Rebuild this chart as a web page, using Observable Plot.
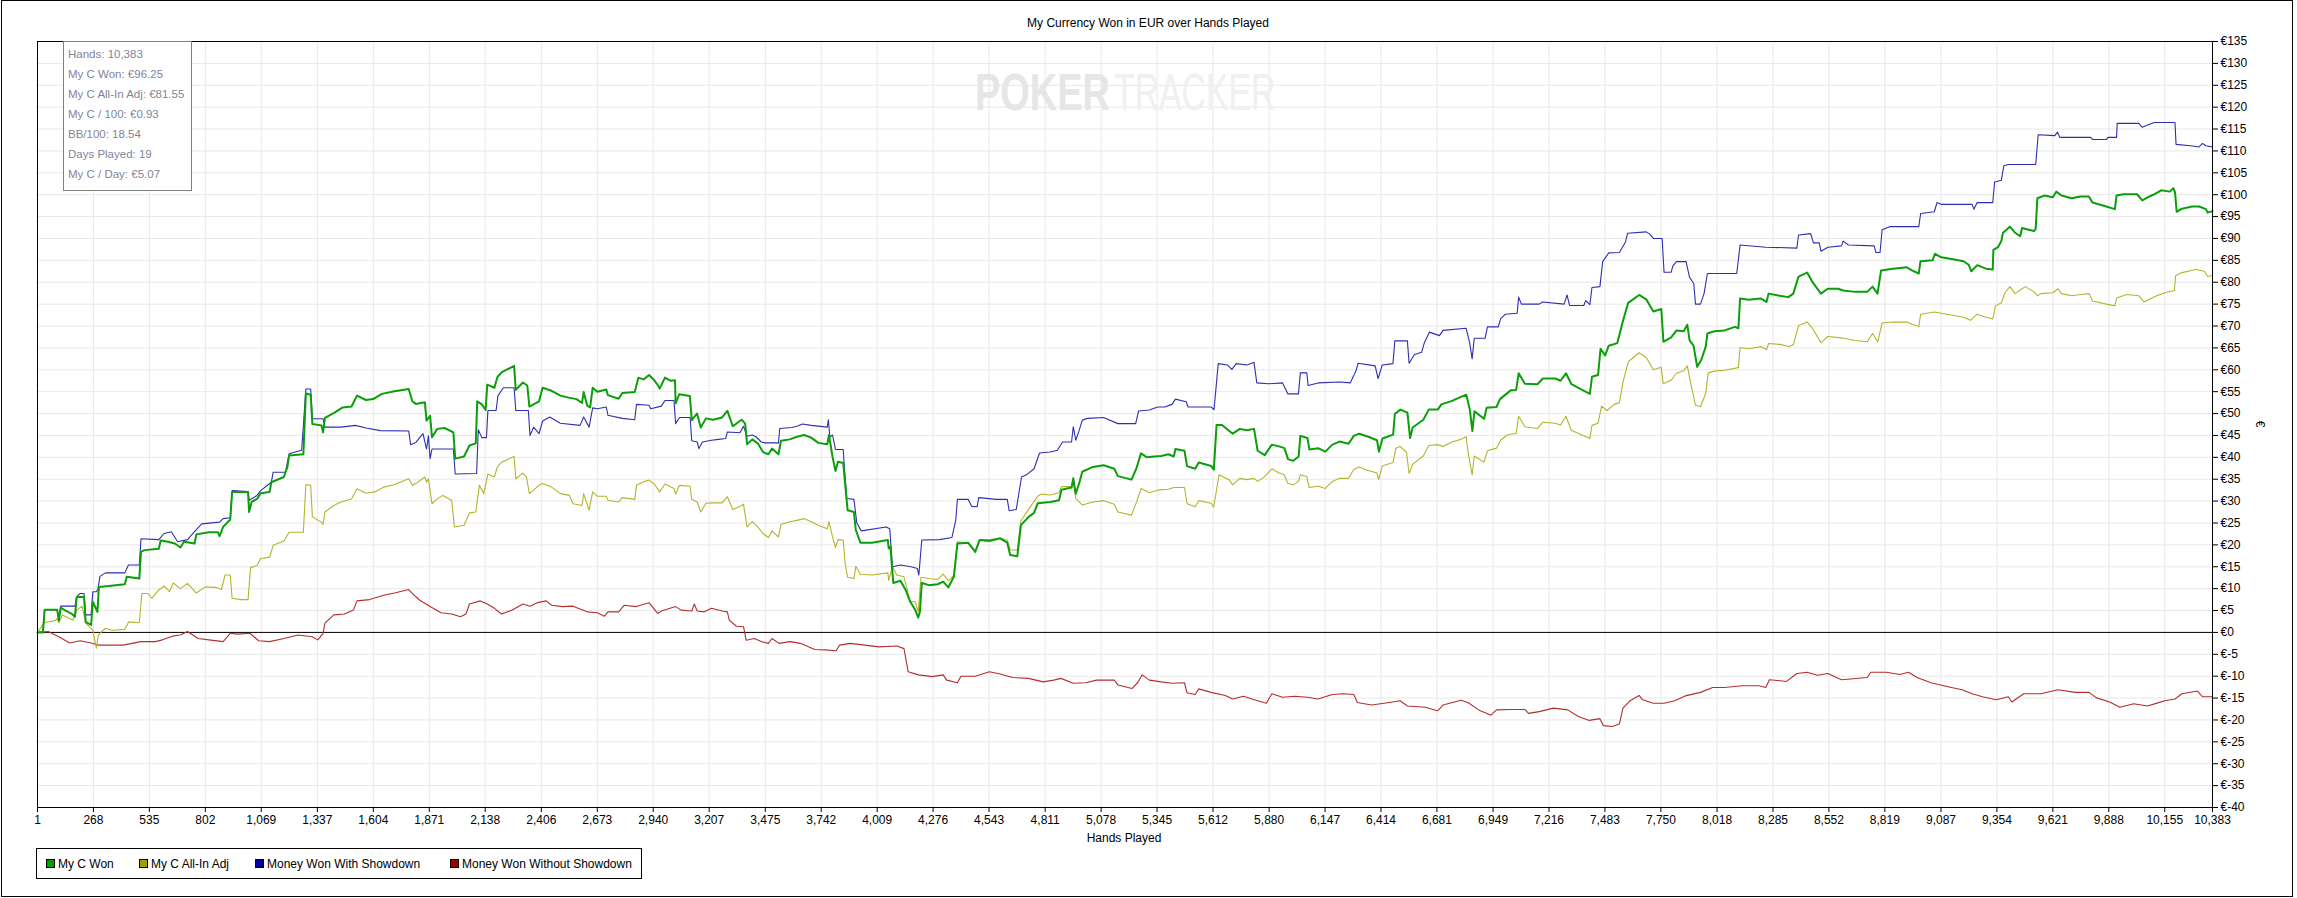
<!DOCTYPE html>
<html><head><meta charset="utf-8">
<script src="https://cdn.jsdelivr.net/npm/d3@7"></script>
<script src="https://cdn.jsdelivr.net/npm/@observablehq/plot@0.6"></script>
<style>
html,body{margin:0;padding:0;background:#fff;overflow:hidden;}
#chart{position:relative;width:2297px;height:898px;}
#chart svg{display:block;}
</style></head><body><div id="chart"></div>
<script>
// ---------------- data ----------------
const seriesNames = ["My C Won", "My C All-In Adj", "Money Won With Showdown", "Money Won Without Showdown"];
const lineColors = ["#0a9f0a", "#b4b42e", "#2e2eb4", "#b42e2e"];
const legendColors = ["#00a000", "#a0a000", "#0000a0", "#a00000"];

const xTicks = [1,268,535,802,1069,1337,1604,1871,2138,2406,2673,2940,3207,3475,3742,4009,4276,4543,4811,5078,5345,5612,5880,6147,6414,6681,6949,7216,7483,7750,8018,8285,8552,8819,9087,9354,9621,9888,10155,10383];
const yTicks = d3.range(-40, 136, 5);

const statsLines = ["Hands: 10,383", "My C Won: €96.25", "My C All-In Adj: €81.55", "My C / 100: €0.93", "BB/100: 18.54", "Days Played: 19", "My C / Day: €5.07"];
const watermarkParts = ["POKER", "TRACKER"];

// My C Won
const wonHands = [1,27,35,95,103,112,137,163,180,188,223,231,257,265,287,294,342,418,427,487,495,512,580,589,623,657,683,700,751,759,819,862,870,887,921,930,1006,1011,1023,1049,1066,1109,1117,1177,1194,1202,1270,1282,1305,1313,1356,1364,1373,1415,1458,1500,1526,1569,1603,1645,1705,1773,1790,1807,1850,1858,1875,1884,1909,1944,1986,1995,2037,2063,2093,2100,2122,2140,2148,2182,2196,2216,2276,2284,2318,2339,2349,2395,2412,2455,2497,2531,2574,2600,2608,2625,2639,2651,2673,
2716,2724,2775,2792,2852,2869,2894,2920,2945,2962,2971,2996,3022,3044,3047,3064,3115,3124,3149,3167,3192,3226,3269,3294,3320,3362,3379,3388,3413,3439,3464,3490,3507,3538,3550,3592,3626,3660,3694,3728,3771,3779,3796,3810,3822,3847,3856,3868,3898,3907,3929,3984,4060,4064,4072,4086,4120,4145,4167,4191,4205,4213,4222,4256,4298,4324,4349,4375,4392,4443,4477,4498,4545,4596,4630,4644,4678,4695,4732,4758,4775,4835,4877,4889,4937,4945,4957,4974,4988,5039,5090,5141,5158,5223,5246,5268,5297,
5331,5365,5399,5425,5433,5476,5488,5527,5544,5604,5616,5629,5655,5706,5740,5774,5808,5825,5859,5893,5927,5953,5970,5995,6021,6029,6063,6072,6114,6148,6182,6216,6259,6284,6310,6353,6395,6404,6421,6472,6480,6506,6540,6553,6565,6616,6642,6685,6702,6753,6795,6821,6838,6850,6860,6906,6918,6965,6982,7033,7059,7071,7101,7161,7186,7246,7271,7297,7323,7374,7411,7421,7450,7462,7484,7501,7542,7568,7594,7646,7680,7714,7752,7762,7799,7825,7859,7876,
7887,7906,7923,7943,7964,7972,8005,8054,8103,8120,8128,8169,8226,8254,8264,8317,8358,8382,8407,8448,8473,8514,8546,8596,8620,8678,8735,8760,8784,8801,8858,8924,8948,8981,8989,9047,9058,9088,9137,9195,9219,9232,9260,9301,9334,9337,9359,9375,9383,9416,9441,9465,9474,9506,9531,9539,9547,9580,9621,9637,9662,9711,9752,9793,9810,9876,9917,9925,9958,10023,10048,10073,10105,10138,10179,10196,10204,10212,10237,10286,10319,10352,10360,10383];
const wonValues = [0,0,5.2,5.2,2.7,5.7,4.9,4.3,3.6,8.1,8.1,2.4,1.7,7.0,4.7,10.4,10.6,11.0,12.7,12.3,18.4,18.8,19.1,21.0,20.7,20.3,19.4,20.7,20.3,22.4,22.9,22.9,22.0,24.1,25.8,32.1,32.1,27.5,29.8,30.5,31.8,32.1,34.3,35.5,37.8,40.4,40.7,54.6,54.3,47.6,47.3,45.7,49.0,50.1,51.4,51.6,54.1,53.1,53.3,54.5,55.1,55.6,52.8,52.2,52.6,48.4,49.5,44.6,46.5,46.7,45.7,39.7,40.2,42.7,43.2,52.8,52.1,50.8,56.6,55.9,58.3,59.4,60.9,55.4,57.1,56.4,51.6,52.8,55.9,55.2,54.1,53.7,53.3,52.4,54.9,51.8,51.4,55.9,55.0,
55.5,54.2,53.4,54.7,54.9,58.2,57.8,58.8,57.6,56.5,55.7,58.2,57.5,57.6,52.3,54.4,54.0,48.5,50.0,46.8,48.9,48.6,49.1,50.6,47.1,48.6,47.7,43.0,44.1,43.2,41.2,40.7,42.0,40.7,43.8,44.1,44.7,45.1,44.5,43.3,43.0,45.1,40.1,36.9,39.0,38.7,34.0,27.9,27.5,23.4,20.5,20.5,21.1,19.2,19.6,11.3,11.8,9.7,7.0,5.1,3.4,4.7,11.3,10.8,11.0,11.6,10.3,12.7,20.3,20.5,18.4,21.1,20.9,21.5,20.5,17.7,17.4,24.5,26.4,27.3,29.5,29.8,30.2,32.6,33.1,35.2,31.7,34.2,36.7,37.8,38.2,37.4,35.7,34.9,37.4,40.9,40.0,
40.2,40.3,40.7,40.2,41.9,41.5,38.0,37.4,38.8,38.0,37.2,47.4,47.4,45.4,46.5,46.2,46.5,41.5,40.5,42.9,42.5,42.1,39.6,39.2,40.2,44.9,44.4,41.8,42.1,41.3,42.9,43.6,43.1,44.9,45.4,44.7,43.9,41.3,44.3,45.2,49.9,50.9,50.2,44.4,46.8,48.6,50.9,50.9,52.1,52.9,53.8,54.3,50.9,46.0,50.5,48.8,51.3,51.5,53.3,55.3,55.4,59.2,56.8,56.7,58.0,58.0,57.5,59.2,56.7,55.4,54.5,58.4,58.8,64.8,63.3,65.5,66.1,71.0,75.3,77.1,76.1,73.3,73.9,66.4,67.4,69.0,68.8,70.3,
66.7,65.5,60.7,62.3,65.3,68.3,68.8,69.0,69.8,69.5,76.3,76.0,76.3,75.5,77.4,76.9,76.6,77.4,81.3,82.2,80.1,77.4,78.5,78.5,78.1,77.8,77.8,79.0,77.4,82.7,83.1,83.4,82.7,82.0,84.8,85.0,86.5,85.7,85.3,84.8,84.0,82.5,83.9,83.1,82.9,87.4,88.0,89.4,91.3,92.7,91.3,90.5,92.4,92.0,91.7,92.2,99.2,99.8,99.4,100.7,99.8,99.2,99.6,99.6,98.2,97.3,96.7,99.8,100.1,100.1,98.7,99.4,100.1,101.0,100.7,101.5,100.6,96.1,96.8,97.3,97.3,96.7,95.9,96.25];

// My C All-In Adj
const adjHands = [1,32,86,95,103,120,171,188,214,231,257,265,282,291,308,325,359,418,436,487,499,529,546,580,606,631,649,683,717,759,802,853,879,896,921,930,972,1006,1018,1049,1066,1109,1126,1177,1202,1270,1282,1305,1313,1356,1364,1373,1415,1449,1500,1526,1569,1611,1654,1705,1773,1790,1807,1850,1858,1867,1884,1909,1935,1978,1991,2037,2063,2093,2110,2131,2151,2182,2196,2216,2276,2284,2318,2335,2349,2395,2412,2455,2497,2540,2557,2600,2608,2634,2651,2673,
2716,2724,2775,2792,2852,2860,2894,2920,2945,2971,2996,3039,3047,3065,3116,3124,3150,3167,3192,3226,3269,3294,3320,3354,3371,3388,3413,3439,3464,3490,3507,3538,3550,3592,3626,3660,3694,3728,3771,3779,3796,3810,3822,3847,3856,3868,3898,3907,3929,3984,4060,4064,4082,4103,4137,4167,4191,4205,4218,4256,4298,4324,4349,4375,4392,4443,4477,4498,4545,4596,4630,4644,4678,4695,4732,4775,4792,4835,4877,4889,4937,4945,4957,4988,5039,5090,5141,5158,5223,5252,5269,5308,
5348,5399,5425,5476,5488,5527,5544,5603,5615,5641,5689,5706,5740,5774,5808,5825,5859,5893,5927,5952,5969,5995,6020,6029,6060,6071,6114,6148,6182,6216,6259,6284,6310,6352,6395,6403,6420,6471,6485,6505,6536,6548,6565,6616,6642,6684,6710,6752,6795,6820,6832,6849,6859,6905,6922,6965,6985,7016,7042,7059,7071,7101,7161,7186,7246,7271,7297,7322,7373,7411,7421,7450,7467,7493,7527,7552,7569,7595,7646,7680,7714,7751,7761,7799,7824,7859,7876,7893,
7915,7939,7964,7976,8005,8054,8120,8128,8169,8227,8255,8264,8317,8363,8383,8407,8448,8473,8514,8547,8612,8678,8735,8760,8785,8806,8858,8924,8949,8981,8990,9055,9088,9137,9195,9228,9260,9301,9334,9347,9375,9392,9416,9441,9474,9490,9531,9548,9564,9621,9646,9662,9712,9753,9794,9810,9876,9917,9925,9974,10032,10056,10105,10155,10201,10207,10237,10303,10344,10360,10383];
const adjValues = [0,2.2,2.7,3.2,2.2,4.0,2.8,5.1,6.0,2.1,0.9,0.5,-3.6,-0.6,0.2,0.9,0.5,0.7,2.4,2.2,8.9,8.9,7.8,9.7,10.6,9.3,11.3,10.0,11.2,9.0,10.4,10.3,9.8,13.1,13.1,7.8,7.5,7.5,14.8,15.3,16.9,17.2,19.9,20.9,22.9,22.9,33.8,33.6,26.4,25.2,24.7,27.5,29.0,29.8,30.5,32.8,31.8,32.1,33.2,33.8,35.1,33.6,34.0,35.5,34.3,35.1,29.4,30.5,31.3,30.2,24.1,24.5,27.3,27.5,33.6,31.7,36.2,35.5,37.8,38.9,40.2,35.1,36.4,35.5,31.7,33.6,34.0,33.2,31.7,31.3,29.4,29.0,31.7,27.9,32.1,31.1,
31.1,30.2,29.8,30.8,30.4,33.6,34.4,34.8,33.9,32.1,33.9,32.9,31.6,33.6,33.4,30.4,29.8,27.5,29.5,29.6,29.6,31.0,28.1,28.8,29.3,24.1,25.3,24.1,22.6,21.7,23.2,21.8,24.7,25.3,25.6,26.0,25.3,24.5,23.7,25.3,21.8,19.4,21.2,21.1,15.8,12.6,12.3,15.1,13.3,13.1,13.6,11.9,15.0,13.1,12.7,7.0,7.0,4.7,12.6,12.3,12.1,13.3,11.8,13.1,20.7,20.5,18.6,21.2,21.2,21.5,21.1,18.9,18.8,25.5,28.1,31.1,31.6,31.4,31.9,33.3,33.3,34.4,30.6,29.1,29.8,30.1,29.3,27.5,26.8,30.4,32.9,31.9,
32.5,32.7,33.1,33.1,29.4,28.7,30.1,29.5,28.6,36.0,34.9,33.7,35.2,34.9,35.2,34.5,35.6,37.4,36.4,36.0,34.1,33.7,34.5,36.0,35.6,33.1,33.4,32.9,34.5,35.2,35.2,37.2,37.8,37.0,36.4,34.9,38.0,38.8,42.1,42.5,41.1,36.3,38.4,40.3,42.7,42.9,42.5,43.5,44.1,44.7,40.5,36.0,40.3,38.9,41.5,42.1,43.9,45.1,45.4,45.4,49.4,47.0,46.6,48.0,47.8,47.4,49.4,46.2,45.1,44.3,47.3,47.8,51.7,50.7,52.1,52.5,57.2,61.9,63.9,62.8,60.0,60.6,56.8,57.6,59.2,59.8,60.9,56.8,
51.9,51.6,54.6,59.3,59.7,59.9,60.5,65.1,64.8,65.3,64.6,66.0,65.8,65.3,65.8,70.1,70.9,69.5,66.2,67.6,67.3,66.7,66.4,68.3,66.4,70.7,70.9,70.9,70.4,69.9,72.7,73.2,72.9,72.5,72.0,71.3,72.7,72.0,71.6,74.6,75.3,77.6,79.0,77.4,78.5,79.0,77.8,76.9,77.4,77.6,78.5,77.4,76.9,77.2,77.4,75.7,75.0,74.6,76.4,77.2,76.9,75.5,76.7,77.6,78.1,81.5,82.2,82.9,82.5,81.3,81.55];

// Money Won With Showdown
const sdHands = [1,27,35,95,103,112,180,188,205,223,231,257,265,282,290,299,325,418,435,487,495,580,605,640,670,717,759,785,870,887,921,930,1006,1011,1049,1066,1117,1126,1185,1202,1262,1282,1305,1313,1364,1373,1450,1518,1569,1637,1773,1782,1807,1841,1858,1867,1875,1884,1986,1995,2097,2105,2122,2144,2151,2190,2199,2225,2276,2284,2344,2352,2369,2395,2412,2446,2497,2591,2608,2634,2651,2673,
2716,2724,2792,2852,2860,2920,2928,2979,2996,3039,3047,3065,3116,3124,3150,3158,3175,3218,3252,3286,3294,3354,3371,3388,3413,3430,3456,3473,3538,3544,3601,3626,3652,3694,3771,3776,3783,3796,3810,3847,3851,3864,3898,3912,3933,4052,4069,4082,4120,4171,4201,4208,4222,4307,4366,4384,4392,4443,4460,4486,4494,4579,4630,4639,4673,4698,4724,4758,4784,4835,4869,4894,4937,4945,4957,4971,4988,5013,5090,5158,5243,5257,5308,
5348,5382,5416,5433,5484,5493,5603,5617,5637,5680,5702,5723,5774,5808,5821,5876,5944,5969,6020,6029,6060,6066,6114,6216,6267,6293,6305,6386,6400,6420,6471,6480,6540,6548,6574,6608,6621,6645,6693,6710,6820,6837,6849,6859,6911,6922,6974,6985,7008,7064,7071,7084,7169,7186,7288,7302,7314,7382,7391,7411,7421,7459,7472,7501,7552,7581,7591,7680,7697,7714,7756,7765,7799,7807,7824,7870,
7887,7907,7915,7939,7956,7972,8112,8128,8251,8399,8407,8465,8478,8506,8514,8547,8612,8620,8645,8768,8776,8796,8806,8842,8981,8990,9055,9068,9088,9236,9244,9260,9334,9343,9375,9387,9408,9539,9551,9630,9643,9654,9802,9810,9876,9884,9925,9928,10031,10048,10073,10105,10204,10209,10278,10319,10335,10352,10383];
const sdValues = [0,0,5.2,5.2,3.0,6.0,6.0,8.1,8.9,8.9,4.0,4.0,9.3,9.3,10.0,12.8,13.6,13.6,15.4,15.4,21.4,21.2,22.6,23.0,20.7,21.2,23.5,24.8,25.2,26.0,26.2,32.4,32.2,30.2,31.3,32.4,34.3,36.6,36.6,40.8,41.6,55.6,55.6,48.8,48.8,46.9,46.9,47.3,46.7,46.1,46.0,42.9,43.4,45.4,41.9,44.9,39.7,41.9,41.9,36.2,36.3,46.3,44.5,44.5,50.7,50.7,54.1,55.9,55.9,50.7,50.7,45.0,46.9,45.4,48.3,49.2,47.8,47.3,49.2,46.9,51.3,51.1,
51.5,49.6,48.9,48.6,52.1,51.9,51.1,51.7,53.0,53.0,47.7,49.1,49.1,43.8,43.5,42.0,43.5,43.9,44.1,44.3,45.8,45.6,47.1,44.8,45.1,44.7,43.5,43.3,43.3,46.6,46.8,47.1,47.6,47.3,46.9,48.6,44.7,45.1,41.8,41.8,38.6,30.6,30.4,25.0,23.2,24.1,23.7,15.0,15.4,15.0,14.6,13.1,21.1,21.2,21.7,25.6,30.4,30.4,28.8,28.7,30.8,30.4,30.4,27.8,28.1,35.5,36.1,37.4,41.0,41.2,41.6,43.5,43.5,47.0,43.9,45.8,48.5,48.9,49.1,47.7,47.7,50.6,50.8,
51.5,51.5,52.1,53.3,52.7,51.5,51.5,50.9,61.4,61.1,60.1,61.4,61.1,61.7,57.0,56.8,57.0,54.5,54.5,59.3,59.3,56.4,57.0,57.2,57.0,59.6,61.5,60.9,58.0,61.1,61.4,66.6,66.6,61.5,63.5,64.0,66.2,68.6,67.8,69.0,69.5,66.2,62.5,67.2,67.2,69.8,69.8,71.7,72.7,72.9,76.6,75.0,75.0,75.5,75.0,77.1,74.7,74.7,75.8,74.9,78.8,79.0,84.7,86.7,86.8,89.2,91.2,91.5,91.0,90.0,90.0,82.3,82.3,83.7,84.7,84.7,
81.1,79.7,75.0,75.0,77.4,82.0,82.0,88.5,88.0,87.8,90.8,91.1,89.0,89.0,87.1,88.0,88.3,89.4,88.5,88.3,86.8,86.8,92.0,92.7,92.7,95.7,96.1,98.2,97.8,97.8,96.7,98.2,98.2,102.9,103.3,106.6,106.9,106.9,113.7,113.5,114.3,113.1,113.1,112.6,112.6,113.1,113.1,116.3,116.3,115.4,115.9,116.5,116.5,111.5,111.2,110.9,111.7,111.2,110.9];

// Money Won Without Showdown
const nsdHands = [1,52,103,154,205,257,291,410,495,563,597,649,683,717,768,819,887,921,955,1015,1057,1109,1177,1245,1313,1339,1364,1373,1415,1466,1509,1526,1586,1654,1705,1773,1790,1824,1875,1927,1978,2020,2046,2063,2114,2148,2182,2216,2267,2318,2352,2387,2429,2455,2506,2557,2600,2625,2673,
2707,2724,2775,2801,2860,2920,2962,2979,3047,3073,3124,3136,3150,3184,3218,3269,3294,3303,3337,3371,3384,3422,3456,3490,3507,3541,3592,3643,3711,3762,3813,3830,3881,3950,4018,4103,4137,4157,4205,4273,4324,4341,4392,4409,4477,4545,4596,4656,4732,4801,4852,4886,4945,5005,5056,5141,5158,5226,5252,5274,5308,
5365,5416,5476,5488,5527,5544,5603,5671,5706,5757,5825,5867,5893,5944,6003,6063,6114,6182,6233,6284,6301,6369,6454,6505,6540,6625,6684,6710,6795,6829,6880,6939,6965,7033,7101,7118,7169,7237,7305,7356,7408,7459,7476,7518,7552,7569,7603,7646,7663,7714,7765,7816,7866,
7939,7997,8054,8136,8218,8251,8268,8350,8399,8448,8497,8547,8612,8735,8752,8826,8891,8932,8973,9039,9121,9187,9236,9285,9351,9408,9425,9482,9564,9646,9728,9794,9827,9892,9941,10007,10073,10122,10155,10204,10237,10311,10335,10383];
const nsdValues = [0,0.2,-1.0,-2.4,-1.9,-2.4,-2.9,-2.9,-2.1,-2.1,-1.7,-0.8,-0.6,0.2,-1.4,-1.7,-2.1,-0.2,-0.4,-0.2,-1.9,-2.1,-1.4,-0.6,-1.0,-1.7,-0.2,2.1,4.0,4.2,5.1,7.2,7.5,8.5,9.0,9.8,8.9,7.4,5.9,4.5,4.2,3.6,4.2,6.5,7.2,6.5,5.5,4.2,5.1,6.5,6.0,6.8,7.2,6.2,5.9,6.0,5.2,4.7,4.5,
3.7,4.7,4.7,6.2,5.9,6.8,4.3,4.9,5.9,5.1,4.9,6.5,4.9,4.7,5.5,4.9,4.7,2.8,1.4,1.3,-1.8,-1.4,-2.1,-2.5,-1.4,-2.5,-2.1,-2.5,-3.9,-4.0,-4.2,-2.9,-2.5,-2.9,-3.3,-3.1,-3.7,-9.0,-9.7,-10.1,-9.7,-10.9,-11.5,-10.0,-10.0,-9.0,-9.5,-10.3,-10.5,-11.3,-10.9,-10.5,-11.6,-11.5,-10.9,-10.9,-12.0,-12.8,-11.5,-9.7,-10.9,
-11.3,-11.6,-11.5,-13.8,-14.2,-12.9,-13.7,-14.4,-15.2,-14.6,-15.6,-16.2,-14.0,-14.8,-14.6,-14.8,-15.2,-14.2,-14.0,-14.2,-16.0,-16.6,-16.0,-15.6,-16.8,-17.1,-17.9,-16.6,-15.5,-16.0,-17.7,-18.9,-17.7,-17.6,-17.6,-18.5,-18.1,-17.3,-17.7,-19.2,-20.1,-19.7,-21.3,-21.5,-20.9,-17.3,-15.6,-14.4,-15.4,-16.2,-16.2,-15.6,-14.5,
-13.7,-12.6,-12.6,-12.2,-12.2,-12.6,-10.8,-11.2,-9.4,-9.1,-9.8,-9.4,-10.8,-10.3,-9.1,-9.1,-9.6,-9.1,-10.3,-11.5,-12.4,-13.1,-14.0,-14.7,-15.4,-14.7,-15.9,-14.0,-14.0,-13.1,-13.7,-13.7,-14.9,-15.9,-17.1,-16.3,-16.8,-16.1,-15.6,-15.2,-14.0,-13.4,-14.7,-14.7];

// ---------------- build ----------------
const allHands = [wonHands, adjHands, sdHands, nsdHands];
const allValues = [wonValues, adjValues, sdValues, nsdValues];
const rows = [];
seriesNames.forEach((name, i) => {
  allHands[i].forEach((h, j) => rows.push({series: name, hand: h, value: allValues[i][j]}));
});

const W = 2297, H = 898;
const FONT = "'Liberation Sans', Arial, sans-serif";
const euro = d => "€" + d;
const drawOrder = [3, 2, 1, 0];
const widths = [2, 1.1, 1.1, 1.1];

const chart = Plot.plot({
  width: W, height: H,
  marginLeft: 37, marginRight: 85, marginTop: 41, marginBottom: 91,
  style: {fontFamily: FONT, fontSize: "12px", color: "#000", background: "transparent", overflow: "visible"},
  x: {domain: [1, 10383], label: null},
  y: {domain: [-40, 135], label: null},
  marks: [
    Plot.gridX(xTicks, {stroke: "#e8e8e8", strokeOpacity: 1}),
    Plot.gridY(yTicks, {stroke: "#e8e8e8", strokeOpacity: 1}),
    Plot.ruleY([0], {stroke: "#000", strokeWidth: 1}),
    ...drawOrder.map(i => Plot.line(rows.filter(d => d.series === seriesNames[i]), {
      x: "hand", y: "value", stroke: lineColors[i], strokeWidth: widths[i], curve: "linear"
    })),
    Plot.axisX(xTicks, {anchor: "bottom", tickSize: 5, tickPadding: 3, tickFormat: d3.format(","), label: null, fill: "#000"}),
    Plot.axisY(yTicks, {anchor: "right", tickSize: 5, tickPadding: 3, tickFormat: euro, label: null, fill: "#000"}),
    Plot.frame({stroke: "#000", strokeWidth: 1})
  ]
});
document.getElementById("chart").appendChild(chart);

// ---------------- decorations ----------------
const svg = d3.select(chart);

// watermark behind the lines: two parts, each horizontally condensed with a transform
const wm = svg.insert("g", 'g[aria-label="line"]').attr("font-family", FONT).attr("font-size", 52).attr("text-anchor", "start");
wm.append("text").attr("transform", "translate(975,110) scale(0.73,1)").attr("fill", "#e6e6e6")
  .attr("font-weight", "bold").text(watermarkParts[0]);
wm.append("text").attr("transform", "translate(1114,110) scale(0.65,1)").attr("fill", "#f0f0f0")
  .attr("font-weight", "normal").text(watermarkParts[1]);

// outer border
svg.append("rect").attr("x", 1.5).attr("y", 0.5).attr("width", 2291).attr("height", 896)
  .attr("fill", "none").attr("stroke", "#000");

// title
svg.append("text").attr("x", 1148).attr("y", 27).attr("text-anchor", "middle")
  .attr("font-family", FONT).attr("font-size", 12).attr("fill", "#000")
  .text("My Currency Won in EUR over Hands Played");

// x label
svg.append("text").attr("x", 1124).attr("y", 842).attr("text-anchor", "middle")
  .attr("font-family", FONT).attr("font-size", 12).attr("fill", "#000").text("Hands Played");

// y label
svg.append("text").attr("transform", "translate(2256,424) rotate(90)").attr("text-anchor", "middle")
  .attr("font-family", FONT).attr("font-size", 12).attr("fill", "#000").text("€");

// stats box
const sb = svg.append("g").attr("text-anchor", "start");
sb.append("rect").attr("x", 63.5).attr("y", 41.5).attr("width", 128).attr("height", 149)
  .attr("fill", "#fff").attr("stroke", "#808080");
statsLines.forEach((t, i) => {
  sb.append("text").attr("x", 68).attr("y", 58 + i * 20).attr("font-family", FONT)
    .attr("font-size", 11.5).attr("fill", "#83839a").attr("text-anchor", "start").text(t);
});

// legend
const lg = svg.append("g").attr("text-anchor", "start");
lg.append("rect").attr("x", 36.5).attr("y", 848.5).attr("width", 605).attr("height", 30)
  .attr("fill", "#fff").attr("stroke", "#000");
const legendX = [46, 139, 255, 450];
seriesNames.forEach((name, i) => {
  lg.append("rect").attr("x", legendX[i] + 0.5).attr("y", 859.5).attr("width", 8).attr("height", 8)
    .attr("fill", legendColors[i]).attr("stroke", "#000");
  lg.append("text").attr("x", legendX[i] + 12).attr("y", 868).attr("font-family", FONT)
    .attr("font-size", 12).attr("fill", "#000").attr("text-anchor", "start").text(name);
});
</script>
</body></html>
